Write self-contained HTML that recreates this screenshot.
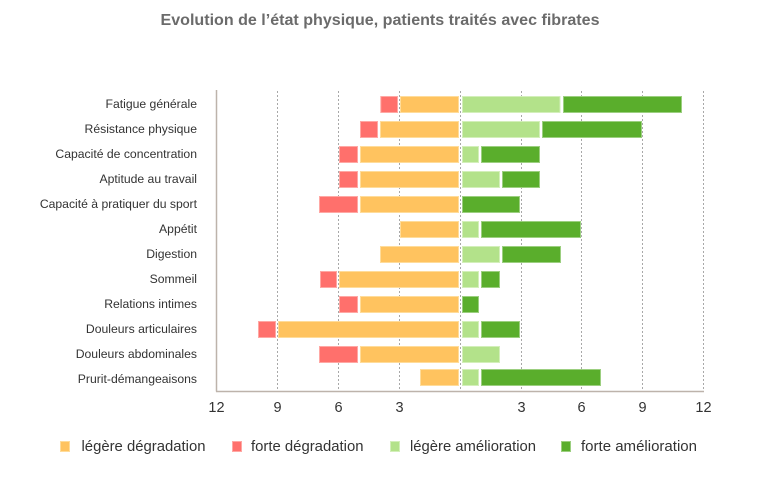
<!DOCTYPE html>
<html><head><meta charset="utf-8"><style>
html,body{margin:0;padding:0;background:#fff;}
svg{display:block;font-family:"Liberation Sans",Arial,sans-serif;}
</style></head><body>
<svg width="771" height="481" viewBox="0 0 771 481" xmlns="http://www.w3.org/2000/svg">
<rect width="771" height="481" fill="#fff"/>
<text x="380" y="25" text-anchor="middle" font-size="16" font-weight="bold" fill="#6b6b6b" textLength="439" lengthAdjust="spacingAndGlyphs">Evolution de l’état physique, patients traités avec fibrates</text>

<!-- gridlines -->
<g stroke="#a8a8a8" stroke-width="1" stroke-dasharray="2,2">
<line x1="277.5" y1="91" x2="277.5" y2="391"/>
<line x1="338.5" y1="91" x2="338.5" y2="391"/>
<line x1="399.5" y1="91" x2="399.5" y2="391"/>
<line x1="460.5" y1="91" x2="460.5" y2="391"/>
<line x1="521.5" y1="91" x2="521.5" y2="391"/>
<line x1="581.5" y1="91" x2="581.5" y2="391"/>
<line x1="642.5" y1="91" x2="642.5" y2="391"/>
<line x1="703.5" y1="91" x2="703.5" y2="391"/>
</g>
<!-- axes -->
<line x1="216.5" y1="90" x2="216.5" y2="391.5" stroke="#bdb3ab" stroke-width="1.5"/>
<line x1="216" y1="391.5" x2="704" y2="391.5" stroke="#bdb3ab" stroke-width="1.5"/>

<!-- category labels -->
<g font-size="12.2" fill="#333" text-anchor="end">
<text x="197" y="108">Fatigue générale</text>
<text x="197" y="133">Résistance physique</text>
<text x="197" y="158">Capacité de concentration</text>
<text x="197" y="183">Aptitude au travail</text>
<text x="197" y="208">Capacité à pratiquer du sport</text>
<text x="197" y="233">Appétit</text>
<text x="197" y="258">Digestion</text>
<text x="197" y="283">Sommeil</text>
<text x="197" y="308">Relations intimes</text>
<text x="197" y="333">Douleurs articulaires</text>
<text x="197" y="358">Douleurs abdominales</text>
<text x="197" y="383">Prurit-démangeaisons</text>
</g>

<!-- tick labels -->
<g font-size="14.5" fill="#333" text-anchor="middle">
<text x="216.5" y="412">12</text>
<text x="277.5" y="412">9</text>
<text x="338.5" y="412">6</text>
<text x="399.5" y="412">3</text>
<text x="521.5" y="412">3</text>
<text x="581.5" y="412">6</text>
<text x="642.5" y="412">9</text>
<text x="703.5" y="412">12</text>
</g>

<!-- legend -->
<g stroke-width="1">
<rect x="60.5" y="441.5" width="9" height="10" fill="#ffc35f" stroke="#ffdc9a"/>
<rect x="232.5" y="441.5" width="9" height="10" fill="#ff706c" stroke="#ffa8a4"/>
<rect x="390.5" y="441.5" width="9" height="10" fill="#b3e28a" stroke="#d3efba"/>
<rect x="561.5" y="441.5" width="9" height="10" fill="#5aae2c" stroke="#9ccf80"/>
</g>
<g font-size="15" fill="#333">
<text x="81.5" y="451" textLength="124" lengthAdjust="spacingAndGlyphs">légère dégradation</text>
<text x="251" y="451" textLength="112.5" lengthAdjust="spacingAndGlyphs">forte dégradation</text>
<text x="410" y="451" textLength="126" lengthAdjust="spacingAndGlyphs">légère amélioration</text>
<text x="581" y="451" textLength="116" lengthAdjust="spacingAndGlyphs">forte amélioration</text>
</g>

<g stroke-width="1">
<!-- row 0 -->
<rect x="380.8" y="96.5" width="16.7" height="16" fill="#ff706c" stroke="#ffa8a4"/>
<rect x="400.5" y="96.5" width="58" height="16" fill="#ffc35f" stroke="#ffdc9a"/>
<rect x="462.5" y="96.5" width="97.5" height="16" fill="#b3e28a" stroke="#d3efba"/>
<rect x="563.5" y="96.5" width="118" height="16" fill="#5aae2c" stroke="#9ccf80"/>
<!-- row 1 -->
<rect x="360.5" y="121.5" width="17" height="16" fill="#ff706c" stroke="#ffa8a4"/>
<rect x="380.5" y="121.5" width="78" height="16" fill="#ffc35f" stroke="#ffdc9a"/>
<rect x="462.5" y="121.5" width="77" height="16" fill="#b3e28a" stroke="#d3efba"/>
<rect x="542.5" y="121.5" width="99" height="16" fill="#5aae2c" stroke="#9ccf80"/>
<!-- row 2 -->
<rect x="339.5" y="146.5" width="18" height="16" fill="#ff706c" stroke="#ffa8a4"/>
<rect x="360.5" y="146.5" width="98" height="16" fill="#ffc35f" stroke="#ffdc9a"/>
<rect x="462.5" y="146.5" width="16" height="16" fill="#b3e28a" stroke="#d3efba"/>
<rect x="481.5" y="146.5" width="58" height="16" fill="#5aae2c" stroke="#9ccf80"/>
<!-- row 3 -->
<rect x="339.5" y="171.5" width="18" height="16" fill="#ff706c" stroke="#ffa8a4"/>
<rect x="360.5" y="171.5" width="98" height="16" fill="#ffc35f" stroke="#ffdc9a"/>
<rect x="462.5" y="171.5" width="37" height="16" fill="#b3e28a" stroke="#d3efba"/>
<rect x="502.5" y="171.5" width="37" height="16" fill="#5aae2c" stroke="#9ccf80"/>
<!-- row 4 -->
<rect x="319.5" y="196.5" width="38" height="16" fill="#ff706c" stroke="#ffa8a4"/>
<rect x="360.5" y="196.5" width="98" height="16" fill="#ffc35f" stroke="#ffdc9a"/>
<rect x="462.5" y="196.5" width="57" height="16" fill="#5aae2c" stroke="#9ccf80"/>
<!-- row 5 -->
<rect x="400.5" y="221.5" width="58" height="16" fill="#ffc35f" stroke="#ffdc9a"/>
<rect x="462.5" y="221.5" width="16" height="16" fill="#b3e28a" stroke="#d3efba"/>
<rect x="481.5" y="221.5" width="99" height="16" fill="#5aae2c" stroke="#9ccf80"/>
<!-- row 6 -->
<rect x="380.5" y="246.5" width="78" height="16" fill="#ffc35f" stroke="#ffdc9a"/>
<rect x="462.5" y="246.5" width="37" height="16" fill="#b3e28a" stroke="#d3efba"/>
<rect x="502.5" y="246.5" width="58" height="16" fill="#5aae2c" stroke="#9ccf80"/>
<!-- row 7 -->
<rect x="320.5" y="271.5" width="16" height="16" fill="#ff706c" stroke="#ffa8a4"/>
<rect x="339.5" y="271.5" width="119" height="16" fill="#ffc35f" stroke="#ffdc9a"/>
<rect x="462.5" y="271.5" width="16" height="16" fill="#b3e28a" stroke="#d3efba"/>
<rect x="481.5" y="271.5" width="18" height="16" fill="#5aae2c" stroke="#9ccf80"/>
<!-- row 8 -->
<rect x="339.5" y="296.5" width="18" height="16" fill="#ff706c" stroke="#ffa8a4"/>
<rect x="360.5" y="296.5" width="98" height="16" fill="#ffc35f" stroke="#ffdc9a"/>
<rect x="462.5" y="296.5" width="16" height="16" fill="#5aae2c" stroke="#9ccf80"/>
<!-- row 9 -->
<rect x="258.5" y="321.5" width="17" height="16" fill="#ff706c" stroke="#ffa8a4"/>
<rect x="278.5" y="321.5" width="180" height="16" fill="#ffc35f" stroke="#ffdc9a"/>
<rect x="462.5" y="321.5" width="16" height="16" fill="#b3e28a" stroke="#d3efba"/>
<rect x="481.5" y="321.5" width="38" height="16" fill="#5aae2c" stroke="#9ccf80"/>
<!-- row 10 -->
<rect x="319.5" y="346.5" width="38" height="16" fill="#ff706c" stroke="#ffa8a4"/>
<rect x="360.5" y="346.5" width="98" height="16" fill="#ffc35f" stroke="#ffdc9a"/>
<rect x="462.5" y="346.5" width="37" height="16" fill="#b3e28a" stroke="#d3efba"/>
<!-- row 11 -->
<rect x="420.5" y="369.5" width="38" height="16" fill="#ffc35f" stroke="#ffdc9a"/>
<rect x="462.5" y="369.5" width="16" height="16" fill="#b3e28a" stroke="#d3efba"/>
<rect x="481.5" y="369.5" width="119" height="16" fill="#5aae2c" stroke="#9ccf80"/>
</g>
</svg>
</body></html>
